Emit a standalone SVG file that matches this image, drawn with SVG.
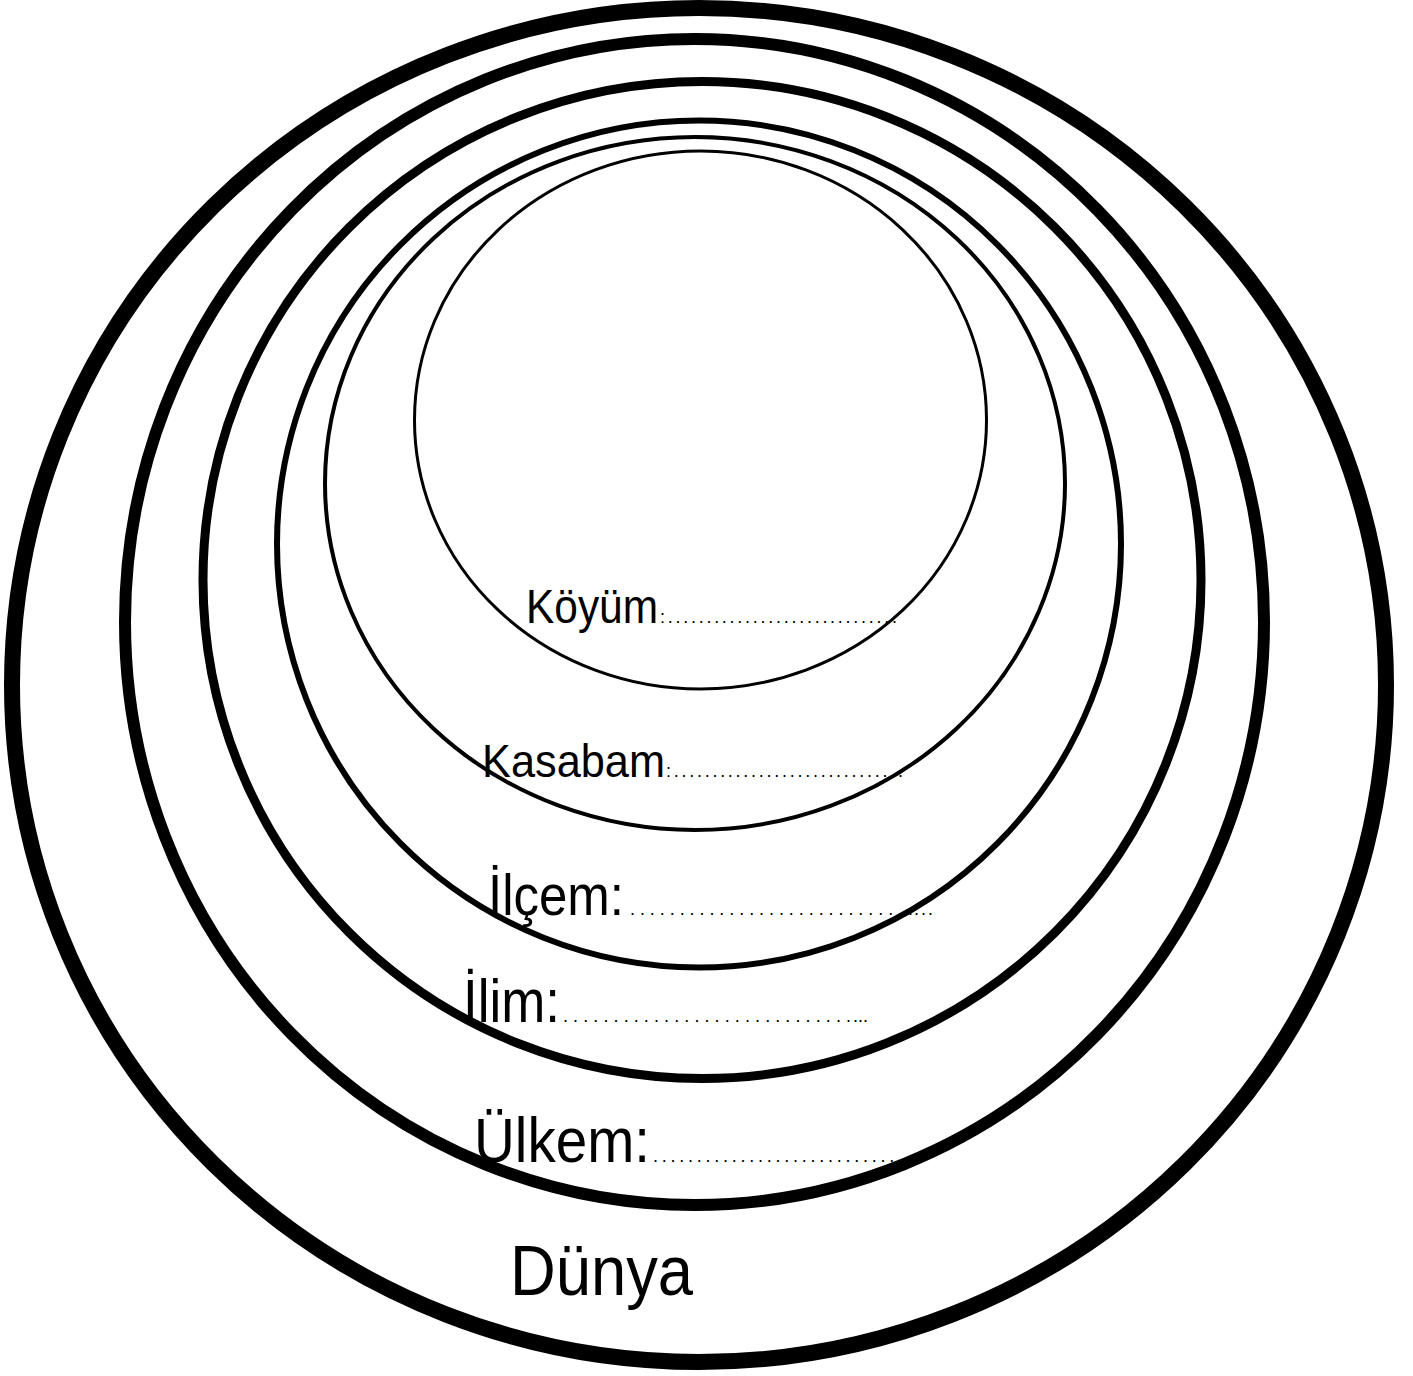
<svg xmlns="http://www.w3.org/2000/svg" width="1413" height="1376" viewBox="0 0 1413 1376">
<style>
.ring{fill:none;stroke:#000}
.lbl{font-family:"Liberation Sans",Arial,sans-serif;fill:#000}
.dots{font-family:"Liberation Sans",Arial,sans-serif;fill:#000;font-size:18px}
</style>
<rect width="1413" height="1376" fill="#fff"/>
<g id="ring-dunya">
<ellipse class="ring" cx="699" cy="685" rx="687" ry="677" stroke-width="16"/>
<text class="lbl" x="510" y="1295" font-size="70" textLength="183" lengthAdjust="spacingAndGlyphs">Dünya</text>
</g>
<g id="ring-ulkem">
<ellipse class="ring" cx="694.5" cy="622" rx="569.5" ry="583" stroke-width="12"/>
<text class="lbl" x="474" y="1162" font-size="63" textLength="176" lengthAdjust="spacingAndGlyphs">Ülkem:</text>
<text class="dots" x="653" y="1162" textLength="250" lengthAdjust="spacing">.............................</text>
</g>
<g id="ring-ilim">
<ellipse class="ring" cx="702" cy="580" rx="499" ry="498.5" stroke-width="9"/>
<text class="lbl" x="463" y="1022" font-size="61" textLength="97" lengthAdjust="spacingAndGlyphs">İlim:</text>
<text class="dots" x="563" y="1022" textLength="288" lengthAdjust="spacing">.............................</text>
<text class="dots" x="853" y="1022" textLength="15" lengthAdjust="spacing">...</text>
</g>
<g id="ring-ilcem">
<ellipse class="ring" cx="699" cy="544" rx="422" ry="423.5" stroke-width="6"/>
<text class="lbl" x="488" y="915" font-size="57" textLength="136" lengthAdjust="spacingAndGlyphs">İlçem:</text>
<text class="dots" x="630" y="915" textLength="283" lengthAdjust="spacing">.............................</text>
<text class="dots" x="914" y="915" textLength="19" lengthAdjust="spacing">...</text>
</g>
<g id="ring-kasabam">
<ellipse class="ring" cx="695" cy="483.5" rx="370" ry="346.5" stroke-width="4"/>
<text class="lbl" x="482" y="777" font-size="46" textLength="183" lengthAdjust="spacingAndGlyphs">Kasabam</text>
<text class="dots" x="666" y="777" textLength="237" lengthAdjust="spacing">:..............................</text>
</g>
<g id="ring-koyum">
<ellipse class="ring" cx="700.5" cy="420" rx="286" ry="269" stroke-width="3"/>
<text class="lbl" x="526" y="623" font-size="48" textLength="132" lengthAdjust="spacingAndGlyphs">Köyüm</text>
<text class="dots" x="660" y="623" textLength="237" lengthAdjust="spacing">:..............................</text>
</g>
</svg>
